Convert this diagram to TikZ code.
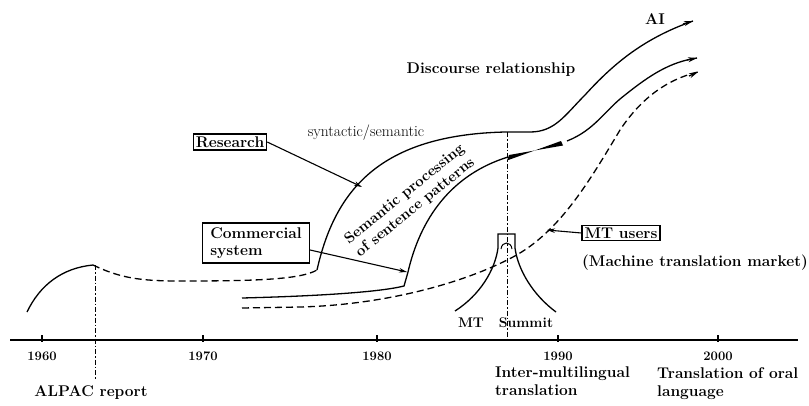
\documentclass[tikz,border=0pt]{standalone}
\usetikzlibrary{arrows.meta}
\begin{document}
\begin{tikzpicture}[x=1pt,y=-1pt,
  curve/.style={line width=1.3pt},
  dcurve/.style={line width=1.3pt, dash pattern=on 7pt off 4pt},
  dashdot/.style={line width=1pt, dash pattern=on 5pt off 2pt on 1.5pt off 2pt},
  tip/.style={-{Stealth[length=9pt,width=5pt]}},
  box/.style={draw, line width=1.1pt, inner sep=2.5pt, font=\fontsize{15.5}{17}\selectfont\bfseries},
  lbl/.style={font=\fontsize{15.5}{18}\selectfont\bfseries, inner sep=0pt},
  yr/.style={font=\fontsize{13}{14}\selectfont\bfseries, inner sep=0pt},
  ptr/.style={line width=1.1pt, -{Stealth[length=8pt,width=4.5pt]}}]
\useasboundingbox (0,0) rectangle (809,405);
\fill[white] (0,0) rectangle (809,405);

% axis
\coordinate (axL) at (10,340);
\coordinate (axR) at (798,340);
\draw[line width=1.3pt] (axL) -- (axR);
\foreach \x/\y in {42/1960,203/1970,377/1980,558/1990,718/2000}{
  \draw[line width=1.2pt] (\x,335) -- (\x,342);
  \node[yr] at (\x,356) {\y};
}

% ALPAC
\coordinate (peak) at (93,265);
\coordinate (alpacB) at (95,380);
\draw[dashdot] (95,265) -- (alpacB);
\node[lbl] (alpac) at (91,393) {ALPAC report};
\draw[curve] (27,312) .. controls (40,285) and (62,268) .. (peak);
\coordinate (junc) at (317,270);
\draw[dcurve] (peak) .. controls (120,278) and (140,281) .. (180,281)
   .. controls (250,281) and (300,280) .. (junc);

% Research curve (AI)
\coordinate (rflat) at (505,132);
\coordinate (aiEnd) at (693,21);
\draw[curve] (junc) .. controls (335,190) and (380,135) .. (rflat) -- (530,132)
   .. controls (555,132) and (565,115) .. (585,95)
   .. controls (615,62) and (645,38) .. (aiEnd);
\draw[line width=1.3pt,tip] (683,24) -- (aiEnd);
\node[lbl] (ai) at (655,19) {AI};
\node[lbl] (disc) at (491,70) {Discourse relationship};
\node[font=\fontsize{15.5}{17}\selectfont, inner sep=0pt] (syn) at (366,133) {syntactic/semantic};

% Commercial curve
\coordinate (c0) at (242,298);
\coordinate (ccorner) at (404,286);
\coordinate (ctop) at (408,272);
\coordinate (cj) at (508,157);
\coordinate (cEnd) at (697,58);
\draw[curve] (c0) .. controls (320,296) and (380,292) .. (ccorner) -- (ctop)
   .. controls (420,220) and (450,175) .. (cj);
\fill (507,160.5) -- (561,141) -- (563,145.5) -- (509,155) -- cycle;
\draw[curve] (567,141) .. controls (595,130) and (605,110) .. (625,95)
   .. controls (650,75) and (670,62) .. (cEnd);
\draw[line width=1.3pt,tip] (687,60) -- (cEnd);

% MT users dashed curve
\coordinate (m0) at (242,308);
\coordinate (mEnd) at (698,72);
\draw[dcurve] (m0) -- (300,307) .. controls (380,305) and (460,285) .. (513,257)
   .. controls (560,232) and (590,180) .. (620,130)
   .. controls (640,100) and (665,80) .. (mEnd);
\draw[line width=1.3pt,tip] (689,76) -- (mEnd);

% MT Summit
\draw[dashdot] (507,132) -- (507,340);
\draw[curve] (455,311) .. controls (480,295) and (495,270) .. (498,248) -- (498,234) -- (515,234) -- (515,248)
   .. controls (518,270) and (533,295) .. (556,312);
\draw[line width=1pt] (501,249) .. controls (502,241) and (511,241) .. (512,249);
\node[font=\fontsize{14}{15}\selectfont\bfseries, inner sep=0pt] (mt) at (471,323) {MT};
\node[font=\fontsize{14}{15}\selectfont\bfseries, inner sep=0pt] (summit) at (526,323) {Summit};

% Semantic processing text
\node[font=\fontsize{15}{17}\selectfont\bfseries, rotate=39, align=center, inner sep=0pt] (sem) at (410,201)
  {Semantic processing\\of sentence patterns};

% boxes
\node[box] (research) at (230,142) {Research};
\coordinate (rtip) at (362,187);
\draw[ptr] (research.east) -- (rtip);
\node[box, align=left, minimum width=107pt, minimum height=40pt] (comm) at (256,243) {Commercial\\system};
\coordinate (ctip) at (407,272);
\draw[ptr] ([yshift=-7pt]comm.east) -- (ctip);
\node[box] (users) at (621,233) {MT users};
\coordinate (utip) at (547,230);
\draw[ptr] (users.west) -- (utip);
\node[lbl] (market) at (695,263) {(Machine translation market)};

% bottom labels
\node[lbl, align=left, anchor=north west] (inter) at (495,367) {Inter-multilingual\\translation};
\node[lbl, align=left, anchor=north west] (oral) at (657,367) {Translation of oral\\language};
\end{tikzpicture}
\end{document}
